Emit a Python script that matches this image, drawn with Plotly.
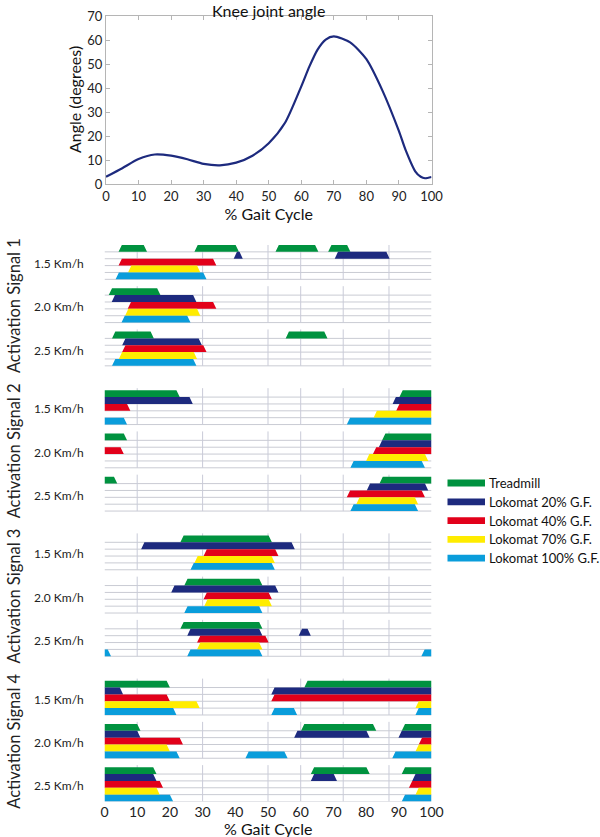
import plotly.graph_objects as go

# ---------------- data ----------------
gait_pct = [0, 5, 10, 15, 20, 25, 30, 35, 40, 45, 50, 55, 60, 62.5, 65, 67.5, 70, 75, 80, 85, 90, 92, 95, 96.7, 98, 100]
knee_angle = [3.0, 6.6, 10.4, 12.3, 11.8, 10.3, 8.4, 7.8, 8.9, 11.8, 17.0, 25.5, 40.7, 49.0, 56.0, 60.2, 61.5, 59.0, 52.0, 38.7, 22.0, 14.3, 5.3, 3.0, 2.4, 2.9]

conditions = ["Treadmill", "Lokomat 20% G.F.", "Lokomat 40% G.F.", "Lokomat 70% G.F.", "Lokomat 100% G.F."]
cond_colors = ["#00923F", "#1D2A7E", "#E2001A", "#FFEC00", "#0A9DDB"]

signal_names = ["Activation Signal 1", "Activation Signal 2", "Activation Signal 3", "Activation Signal 4"]
speeds = ["1.5 Km/h", "2.0 Km/h", "2.5 Km/h"]
phase_lines = [10, 30, 50, 60, 73, 87]
x_ticks = [0, 10, 20, 30, 40, 50, 60, 70, 80, 90, 100]

# activation intervals (start %, end %) per speed -> per condition
signal1 = [
    [[(4.3, 13.0), (27.5, 41.1), (52.3, 65.4), (68.4, 75.2)],
     [(39.5, 42.3), (70.4, 87.2)],
     [(4.3, 34.2)],
     [(7.2, 29.3)],
     [(3.4, 31.2)]],
    [[(1.3, 17.1)],
     [(2.2, 28.1)],
     [(7.1, 34.2)],
     [(6.3, 29.3)],
     [(5.2, 26.3)]],
    [[(2.3, 15.1), (55.4, 68.2)],
     [(5.4, 29.8)],
     [(5.4, 31.2)],
     [(4.4, 28.3)],
     [(2.3, 28.1)]],
]
signal2 = [
    [[(0, 23.0), (90.2, 100)],
     [(0, 27.0), (88.1, 100)],
     [(0, 7.9), (89.2, 100)],
     [(82.3, 100)],
     [(0, 6.9), (74.1, 100)]],
    [[(0, 6.9), (84.9, 100)],
     [(83.9, 100)],
     [(0, 5.9), (82.1, 100)],
     [(80.0, 99.0)],
     [(75.2, 98.0)]],
    [[(0, 3.9), (84.1, 100)],
     [(80.2, 99.0)],
     [(74.1, 98.0)],
     [(77.0, 95.9)],
     [(75.2, 95.9)]],
]
signal3 = [
    [[(23.2, 51.2)],
     [(11.2, 58.2)],
     [(30.3, 53.2)],
     [(27.5, 52.1)],
     [(26.3, 52.1)]],
    [[(24.4, 48.3)],
     [(20.4, 53.2)],
     [(30.3, 51.2)],
     [(30.5, 51.2)],
     [(24.4, 48.3)]],
    [[(23.2, 48.3)],
     [(25.3, 48.3), (59.4, 63.1)],
     [(28.3, 50.2)],
     [(28.3, 48.3)],
     [(0, 2.0), (25.3, 48.3), (96.9, 100)]],
]
signal4 = [
    [[(0, 20.0), (61.1, 100)],
     [(0, 5.7), (51.0, 100)],
     [(0, 20.0), (51.0, 100)],
     [(0, 29.1), (95.1, 100)],
     [(0, 22.0), (51.0, 58.9), (95.1, 100)]],
    [[(0, 11.0), (60.1, 83.1), (90.9, 100)],
     [(0, 11.0), (58.0, 81.1), (89.9, 100)],
     [(0, 24.0), (96.1, 100)],
     [(0, 20.0), (95.1, 100)],
     [(0, 23.0), (43.1, 56.0), (88.0, 100)]],
    [[(0, 15.9), (63.1, 81.1), (90.9, 100)],
     [(0, 15.9), (63.1, 71.1), (94.1, 100)],
     [(0, 17.9), (93.1, 100)],
     [(0, 16.9), (95.1, 100)],
     [(0, 21.0), (90.9, 100)]],
]
signals = [signal1, signal2, signal3, signal4]

# ---------------- layout constants ----------------
W, H = 600, 837
FONT = "Lato, 'Open Sans', Arial, sans-serif"
SIG_STEP = 21.15   # rows between signal groups
BLK_STEP = 6.3     # rows between speed blocks
SLANT = 1.0        # trapezoid slant in % units
Y_END = 3 * SIG_STEP + 2 * BLK_STEP + 5

x_dom = [104.5 / W, 431.5 / W]
x_dom_top = [106 / W, 431.5 / W]
top_dom = [1 - 184 / H, 1 - 16 / H]

fig = go.Figure()

# knee angle curve
fig.add_trace(go.Scatter(x=gait_pct, y=knee_angle, mode="lines",
                         line=dict(color="#1D2A7E", width=2.2, shape="spline", smoothing=0.7),
                         showlegend=False, xaxis="x", yaxis="y", hoverinfo="skip"))


def trap(s, e, top):
    tl = s if s <= 0.01 else s + SLANT
    tr = e if e >= 99.99 else e - SLANT
    if tl > tr:
        tl = tr = (s + e) / 2
    return [s, tl, tr, e, s, None], [top + 1, top, top, top + 1, top + 1, None]


shapes = []
annotations = []
for si, sig in enumerate(signals):
    for bi, block in enumerate(sig):
        btop = si * SIG_STEP + bi * BLK_STEP
        for r in range(1, 6):
            shapes.append(dict(type="line", xref="x2", yref="y2", x0=0, x1=100,
                               y0=btop + r, y1=btop + r, layer="below",
                               line=dict(color="#C9CBD3", width=1)))
        for p in phase_lines:
            shapes.append(dict(type="line", xref="x2", yref="y2", x0=p, x1=p,
                               y0=btop - 0.3, y1=btop + 5, layer="below",
                               line=dict(color="#C9CBD8", width=1)))
        annotations.append(dict(text=speeds[bi], xref="paper", yref="y2",
                                x=59 / W, y=btop + 2.7, xanchor="center", yanchor="middle",
                                showarrow=False, font=dict(size=12, color="#222", family=FONT)))
    annotations.append(dict(text=signal_names[si], xref="paper", yref="y2",
                            x=14 / W, y=si * SIG_STEP + 8.9, textangle=-90,
                            xanchor="center", yanchor="middle",
                            showarrow=False, font=dict(size=16.5, color="#222", family=FONT)))

for ci, cname in enumerate(conditions):
    xs, ys = [], []
    for si, sig in enumerate(signals):
        for bi, block in enumerate(sig):
            btop = si * SIG_STEP + bi * BLK_STEP
            for (s, e) in block[ci]:
                px, py = trap(s, e, btop + ci)
                xs += px
                ys += py
    fig.add_trace(go.Scatter(x=xs, y=ys, mode="lines", fill="toself", name=cname,
                             fillcolor=cond_colors[ci], line=dict(width=0, color=cond_colors[ci]),
                             xaxis="x2", yaxis="y2", showlegend=False, hoverinfo="skip"))

# legend (drawn as swatches + labels)
LEG_Y0, LEG_STEP = 483, 18.8
for ci, cname in enumerate(conditions):
    yc = LEG_Y0 + ci * LEG_STEP
    shapes.append(dict(type="rect", xref="paper", yref="paper",
                       x0=447.5 / W, x1=485 / W, y0=1 - (yc + 3.4) / H, y1=1 - (yc - 3.4) / H,
                       fillcolor=cond_colors[ci], line=dict(width=0)))
    annotations.append(dict(text=cname, xref="paper", yref="paper", x=487 / W, y=1 - yc / H,
                            xanchor="left", yanchor="middle", showarrow=False,
                            font=dict(size=13, color="#111", family=FONT)))

annotations.append(dict(text="Knee joint angle", xref="paper", yref="paper",
                        x=(x_dom_top[0] + x_dom_top[1]) / 2, y=1 - 10 / H, xanchor="center", yanchor="middle",
                        showarrow=False, font=dict(size=16, color="#111", family=FONT)))
annotations.append(dict(text="Angle (degrees)", xref="paper", yref="paper",
                        x=75 / W, y=(top_dom[0] + top_dom[1]) / 2, textangle=-90,
                        xanchor="center", yanchor="middle",
                        showarrow=False, font=dict(size=16, color="#111", family=FONT)))
annotations.append(dict(text="% Gait Cycle", xref="paper", yref="paper",
                        x=(x_dom[0] + x_dom[1]) / 2, y=1 - 828 / H, xanchor="center", yanchor="middle",
                        showarrow=False, font=dict(size=16, color="#111", family=FONT)))

axis_font = dict(size=13, color="#222", family=FONT)
fig.update_layout(
    width=W, height=H,
    margin=dict(l=0, r=0, t=0, b=0),
    paper_bgcolor="white", plot_bgcolor="white",
    font=dict(family=FONT, color="#222"),
    showlegend=False,
    xaxis=dict(domain=x_dom_top, anchor="y", range=[0, 100], tickvals=x_ticks, automargin=False,
               showline=True, mirror="ticks", linecolor="#B5B5B5", linewidth=1,
               ticks="inside", ticklen=4, tickcolor="#B5B5B5", showgrid=False, zeroline=False,
               tickfont=axis_font,
               title=dict(text="% Gait Cycle", font=dict(size=16, color="#111", family=FONT), standoff=4)),
    yaxis=dict(domain=top_dom, anchor="x", range=[0, 70], dtick=10, automargin=False,
               showline=True, mirror="ticks", linecolor="#B5B5B5", linewidth=1,
               ticks="inside", ticklen=4, tickcolor="#B5B5B5", showgrid=False, zeroline=False,
               tickfont=axis_font),
    xaxis2=dict(domain=x_dom, anchor="y2", range=[0, 100], tickvals=x_ticks, automargin=False,
                showline=False, ticks="", showgrid=False, zeroline=False,
                tickfont=dict(size=14, color="#222", family=FONT)),
    yaxis2=dict(domain=[1 - 801.5 / H, 1 - 245 / H], anchor="x2", range=[Y_END, 0],
                visible=False, showgrid=False, zeroline=False, automargin=False),
    shapes=shapes,
    annotations=annotations,
)

fig.write_html("out.html", config={"displayModeBar": False},
               post_script="document.body.style.margin='0';")
